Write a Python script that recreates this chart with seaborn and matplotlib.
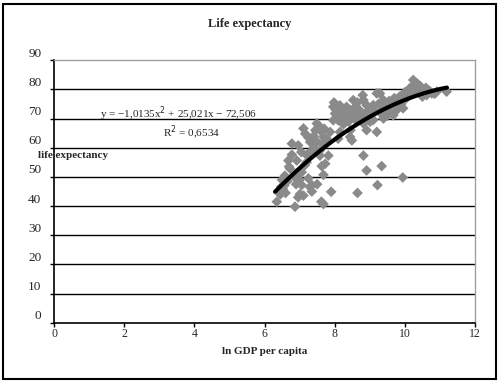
import numpy as np
import pandas as pd
import seaborn as sns
import matplotlib
matplotlib.use("Agg")
import matplotlib.pyplot as plt
import matplotlib.transforms as mtransforms
from matplotlib.patches import Rectangle

# ln GDP per capita (x) e life expectancy (y)
gdp = [6.35, 6.87, 7.68, 7.62, 7.68, 7.90, 8.65, 9.22, 9.94, 8.91, 9.34, 8.82,
       7.01, 7.11, 6.96, 7.35, 7.06, 7.30, 6.52, 6.48, 6.56, 6.58, 6.50, 6.73,
       6.92, 7.06, 6.68, 6.78, 6.92, 6.78, 6.96, 7.63, 7.73, 7.58, 7.82, 7.58,
       7.35, 7.11, 7.16, 7.30, 7.44, 7.49, 7.53, 7.63, 7.68, 7.77, 7.87, 7.96,
       8.01, 8.10, 7.96, 8.15, 8.10, 8.25, 8.34, 8.44, 8.53, 8.63, 8.44, 8.49,
       8.34, 8.72, 8.82, 8.91, 9.01, 9.20, 8.82, 8.91, 9.10, 9.20, 9.29, 9.39,
       9.48, 9.58, 9.39, 9.67, 9.77, 9.81, 9.96, 10.10, 10.24, 10.34, 10.43, 10.53,
       10.62, 10.77, 10.91, 11.19, 10.24, 10.39,
       7.40, 7.45, 7.55, 7.70, 7.25, 8.05, 8.20, 8.30, 8.40, 8.50, 8.55, 8.60,
       8.70, 8.75, 8.90, 8.95, 9.00, 9.05, 9.15, 9.25, 9.35, 9.45, 9.55, 9.60,
       9.70, 9.85, 9.90, 10.00, 10.05, 10.15, 10.20, 10.30, 10.45, 10.50, 10.60, 10.70,
       10.85, 9.95, 9.75, 8.15, 7.98, 8.65, 8.80, 9.30, 9.50, 9.10, 8.25, 8.45,
       6.65, 6.85, 6.70, 6.45, 6.60, 7.20, 7.20, 7.40, 7.50, 7.65, 7.05, 7.15,
       7.00, 6.90, 7.25, 7.50, 7.35]
life = [41.5, 39.8, 40.7, 41.5, 50.7, 44.9, 44.5, 47.2, 49.8, 52.2, 53.7, 57.3,
        44.1, 43.6, 43.0, 47.2, 47.2, 46.5, 45.9, 46.6, 47.0, 50.4, 49.0, 52.8,
        51.0, 51.6, 55.6, 57.6, 55.6, 61.4, 60.8, 53.7, 54.5, 57.3, 57.3, 59.1,
        59.1, 66.6, 64.8, 62.0, 62.5, 68.3, 66.6, 65.4, 63.7, 63.1, 65.4, 74.0,
        71.7, 69.4, 69.4, 65.4, 63.1, 72.3, 74.0, 72.9, 76.3, 72.3, 63.7, 62.5,
        70.0, 70.0, 68.3, 66.0, 68.9, 65.4, 76.3, 74.6, 74.6, 78.6, 78.6, 76.3,
        73.4, 72.3, 70.0, 71.1, 72.9, 76.3, 78.0, 79.2, 80.9, 82.1, 80.3, 79.2,
        78.0, 78.6, 79.2, 79.2, 83.2, 81.5,
        64.0, 66.0, 67.5, 66.5, 63.5, 72.8, 70.5, 71.0, 69.0, 71.5, 73.5, 69.5,
        73.0, 71.0, 72.0, 70.5, 73.0, 71.5, 72.5, 75.0, 74.0, 75.5, 76.0, 74.5,
        77.0, 77.5, 75.0, 79.0, 77.0, 80.5, 78.5, 79.5, 81.0, 77.5, 80.5, 79.5,
        78.5, 73.5, 75.0, 74.5, 75.5, 75.5, 78.0, 72.0, 71.0, 69.5, 68.0, 66.0,
        48.5, 50.0, 53.5, 44.0, 44.5, 57.5, 55.0, 60.0, 62.0, 61.5, 58.5, 54.0,
        49.0, 47.5, 49.5, 47.5, 45.0]

# coeficientes da linha de tendencia (polinomial de ordem 2)
coef = [-1.0135, 25.021, -72.506]
trend_x = np.linspace(6.3, 11.2, 60)

tabela = pd.DataFrame({"gdp": gdp, "life": life})
tendencia = pd.DataFrame({"x": trend_x, "y": np.polyval(coef, trend_x)})

sns.set_style("white")
plt.rcParams["font.family"] = ["Liberation Serif", "DejaVu Serif"]

fig = plt.figure(figsize=(5, 3.83), dpi=100)
ax = fig.add_axes([0.108, 0.157, 0.842, 0.686])

sns.scatterplot(data=tabela, x="gdp", y="life", marker="D", s=30,
                color="#8a8a8a", edgecolor="none", ax=ax, zorder=3)
sns.lineplot(data=tendencia, x="x", y="y", color="black", lw=3, ax=ax, zorder=4)

ax.set_xlim(0, 12)
ax.set_ylim(0, 90)
ax.set_xticks(range(0, 13, 2))
ax.set_yticks(range(0, 91, 10))
for v in range(10, 90, 10):
    ax.axhline(v, color="black", lw=1, zorder=1)

for s in ["left", "bottom"]:
    ax.spines[s].set_color("black")
    ax.spines[s].set_linewidth(1.2)
for s in ["top", "right"]:
    ax.spines[s].set_color("#a0a0a0")
    ax.spines[s].set_linewidth(1)

ax.tick_params(axis="both", direction="out", length=3, width=1, color="black",
               left=True, bottom=True)
ax.tick_params(axis="x", labelsize=8.5, pad=1)
ax.tick_params(axis="y", labelsize=9.5, pad=6)
# rotulos do eixo y ficam um pouco acima das linhas (como no Excel)
off = mtransforms.ScaledTranslation(0, 0.08, fig.dpi_scale_trans)
for lab in ax.get_yticklabels():
    lab.set_transform(lab.get_transform() + off)

ax.set_xlabel("ln GDP per capita", fontsize=8, fontweight="bold", labelpad=5)
ax.set_ylabel("")
fig.text(0.076, 0.593, "life expectancy", fontsize=8, fontweight="bold",
         ha="left", va="center")
fig.text(0.5, 0.937, "Life expectancy", fontsize=9, fontweight="bold",
         ha="center", va="center")

ax.text(0.2, 0.702, "y = \u22121,0135x$^2$ + 25,021x \u2212 72,506",
        transform=fig.transFigure, fontsize=8, ha="left", va="center")
ax.text(0.326, 0.652, "R$^2$ = 0,6534", transform=fig.transFigure,
        fontsize=8, ha="left", va="center")

fig.patches.append(Rectangle((0.006, 0.01), 0.986, 0.98, transform=fig.transFigure,
                             fill=False, edgecolor="black", lw=1.5))

fig.savefig("out.png", dpi=100)
